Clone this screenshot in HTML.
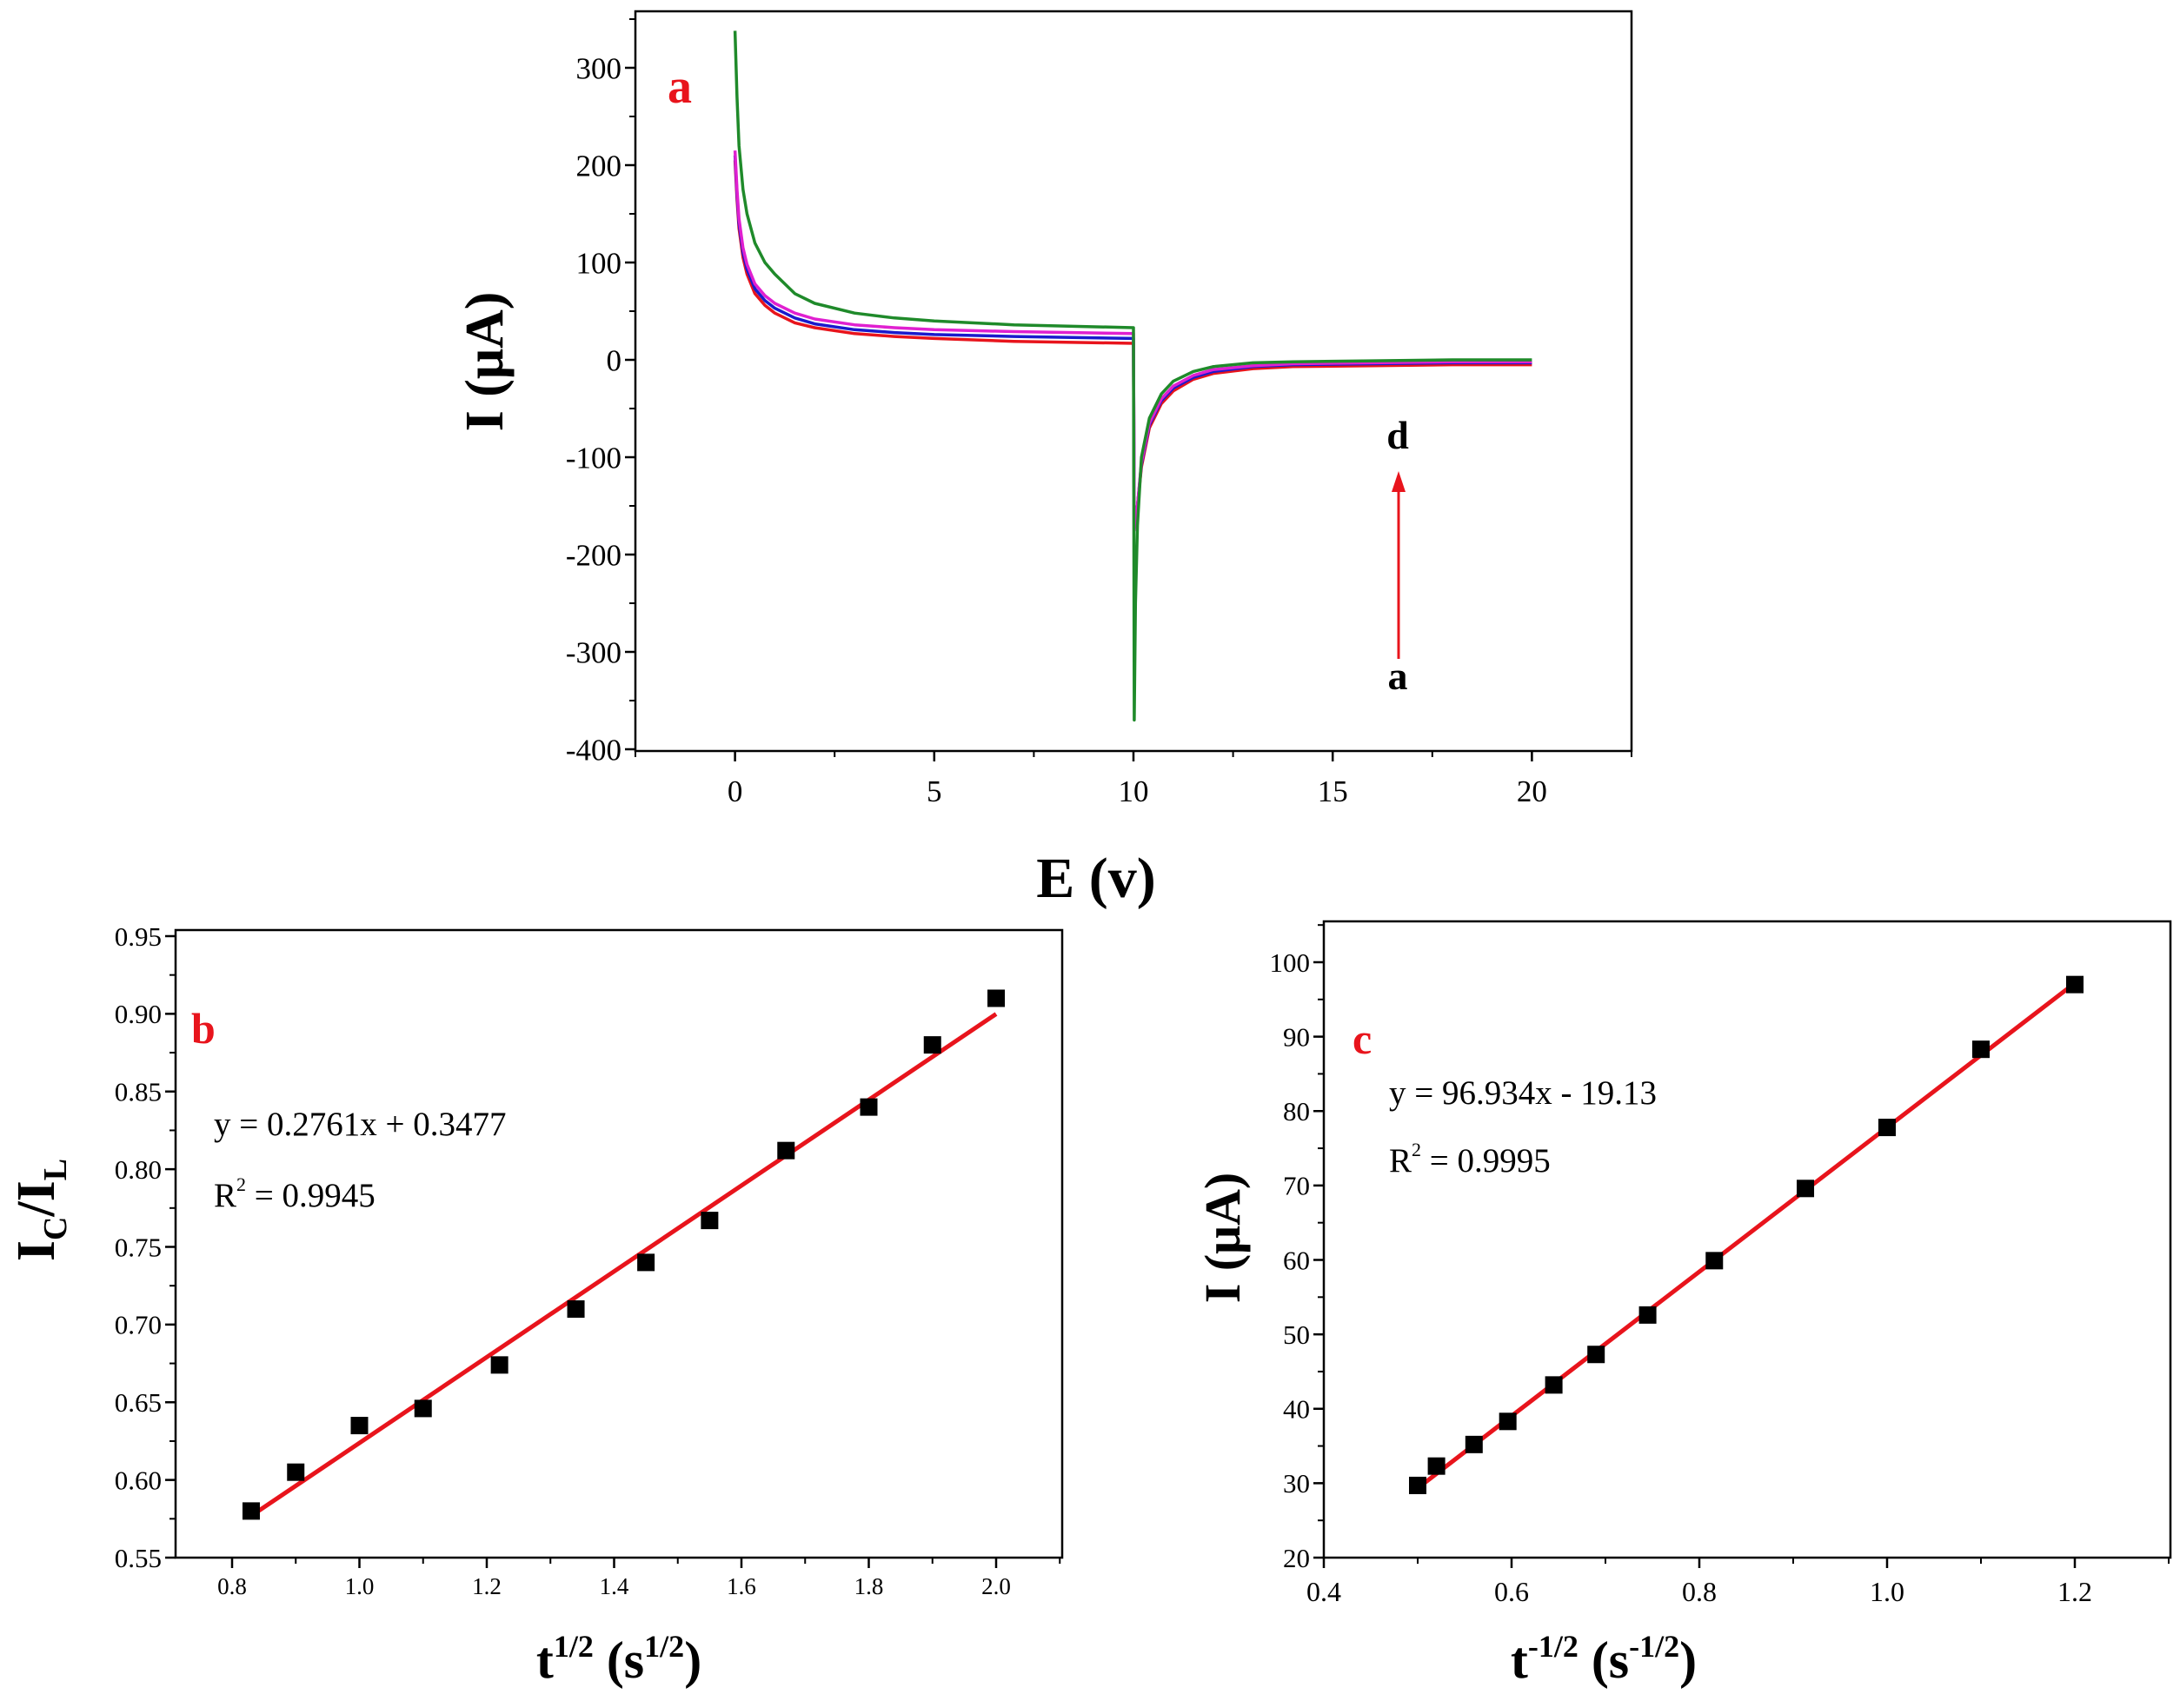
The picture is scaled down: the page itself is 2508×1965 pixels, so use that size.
<!DOCTYPE html>
<html><head><meta charset="utf-8">
<style>
html,body{margin:0;padding:0;background:#fff;}
svg{display:block;font-family:"Liberation Serif","DejaVu Serif",serif;}
</style></head>
<body>
<svg id="fig" width="2508" height="1965" viewBox="0 0 2508 1965"></svg>
<script>
// ---- Panel a data ----
const aTime1 = [0,0.05,0.1,0.2,0.3,0.5,0.75,1,1.5,2,3,4,5,7,10];
const aTime2 = [10.02,10.05,10.1,10.2,10.4,10.7,11,11.5,12,13,14,16,18,20];
const aRed1 = [205,165,135,105,88,68,56,48,38,33,27,24,22,19,17];
const aBlue1 = [210,170,140,110,93,73,61,53,43,37,31,28,26,24,22];
const aMag1 = [215,175,145,115,98,78,66,58,48,42,36,33,31,29,27];
const aGreen1 = [338,270,220,175,150,120,100,88,68,58,48,43,40,36,33];
const aRed2 = [-170,-165,-150,-110,-70,-45,-32,-20,-14,-9,-7,-6,-5,-5];
const aBlue2 = [-172,-165,-150,-107,-67,-42,-29,-18,-12,-7,-5,-4,-3,-3];
const aMag2 = [-175,-165,-150,-105,-65,-40,-27,-16,-10,-6,-4,-3,-2,-2];
const aGreen2 = [-370,-250,-170,-100,-60,-35,-22,-12,-7,-3,-2,-1,0,0];
const aXTicks = [0,5,10,15,20];
const aYTicks = [-400,-300,-200,-100,0,100,200,300];
// ---- Panel b data ----
const bX = [0.83,0.9,1.0,1.1,1.22,1.34,1.45,1.55,1.67,1.8,1.9,2.0];
const bY = [0.58,0.605,0.635,0.646,0.674,0.71,0.74,0.767,0.812,0.84,0.88,0.91];
const bSlope = 0.2761, bIntercept = 0.3477;
const bXTicks = ["0.8","1.0","1.2","1.4","1.6","1.8","2.0"];
const bYTicks = ["0.55","0.60","0.65","0.70","0.75","0.80","0.85","0.90","0.95"];
// ---- Panel c data ----
const cX = [0.5,0.52,0.56,0.596,0.645,0.69,0.745,0.816,0.913,1.0,1.1,1.2];
const cY = [29.7,32.3,35.2,38.3,43.2,47.3,52.6,59.9,69.6,77.8,88.3,97.0];
const cSlope = 96.934, cIntercept = -19.13;
const cXTicks = ["0.4","0.6","0.8","1.0","1.2"];
const cYTicks = ["20","30","40","50","60","70","80","90","100"];

const NS="http://www.w3.org/2000/svg";
const svg=document.getElementById('fig');
function el(tag,attrs,parent,text){const e=document.createElementNS(NS,tag);for(const k in attrs)e.setAttribute(k,attrs[k]);if(text!==undefined)e.textContent=text;(parent||svg).appendChild(e);return e;}
function lin(d0,d1,r0,r1){return v=>r0+(v-d0)*(r1-r0)/(d1-d0);}

function frame(g,L,T,R,B){
  const f=el('rect',{x:L,y:T,width:R-L,height:B-T,fill:'none',stroke:'#000','stroke-width':2.5},g);
  
  
}
function xAxis(g,sx,B,ticks,minorStep,d0,d1,fs,ly){
  ticks.forEach(t=>{const v=+t;const x=sx(v);
    const l=el('line',{x1:x,x2:x,y1:B,y2:B+12,stroke:'#000','stroke-width':2.5},g);
    
    const tx=el('text',{x:x,y:ly,'font-size':fs,'text-anchor':'middle'},g,t);
    
  });
  for(let v=Math.ceil(d0/minorStep)*minorStep;v<=d1+1e-9;v+=minorStep){const x=sx(v);
    const m=el('line',{x1:x,x2:x,y1:B,y2:B+7,stroke:'#000','stroke-width':2},g);
    }
}
function yAxis(g,sy,L,ticks,minorStep,d0,d1,fs){
  ticks.forEach(t=>{const v=+t;const y=sy(v);
    const l=el('line',{x1:L-12,x2:L,y1:y,y2:y,stroke:'#000','stroke-width':2.5},g);
    
    const tx=el('text',{x:L-16,y:y+fs*0.35,'font-size':fs,'text-anchor':'end'},g,t);
    
  });
  for(let v=Math.ceil(d0/minorStep-1e-9)*minorStep;v<=d1+1e-9;v+=minorStep){const y=sy(v);
    const m=el('line',{x1:L-7,x2:L,y1:y,y2:y,stroke:'#000','stroke-width':2},g);
    }
}

// ===== Panel a =====
(function(){
  const g=el('g',{});
  
  const L=731,R=1877,T=13,B=864;
  const sx=lin(-2.5,22.5,L,R), sy=lin(0,100,414,302);
  frame(g,L,T,R,B);
  xAxis(g,sx,B,aXTicks.map(String),2.5,-2.5,22.5,35,922);
  yAxis(g,sy,L,aYTicks.map(String),50,-400,350,35);
  const series=[['red-curve','#e8141c',aRed1,aRed2],['blue-curve','#1a1acc',aBlue1,aBlue2],['magenta-curve','#e020d0',aMag1,aMag2],['green-curve','#1f8a2a',aGreen1,aGreen2]];
  series.forEach(s=>{
    let d='';
    aTime1.forEach((t,i)=>{d+=(i?'L':'M')+sx(t).toFixed(1)+','+sy(s[2][i]).toFixed(1);});
    aTime2.forEach((t,i)=>{d+='L'+sx(t).toFixed(1)+','+sy(s[3][i]).toFixed(1);});
    const p=el('path',{d:d,fill:'none',stroke:s[1],'stroke-width':3.5,'stroke-linejoin':'round'},g);
    
  });
  const la=el('text',{x:768,y:118,'font-size':56,'font-weight':'bold',fill:'#e8141c'},g,'a');
  
  const ld=el('text',{x:1608,y:516,'font-size':46,'font-weight':'bold','text-anchor':'middle'},g,'d');
  
  const la2=el('text',{x:1608,y:793,'font-size':46,'font-weight':'bold','text-anchor':'middle'},g,'a');
  
  const ar=el('line',{x1:1609,x2:1609,y1:758,y2:560,stroke:'#e8141c','stroke-width':3},g);
  
  const ah=el('polygon',{points:'1609,542 1601,566 1617,566',fill:'#e8141c'},g);
  
  const xt=el('text',{x:1261,y:1032,'font-size':66,'font-weight':'bold','text-anchor':'middle'},g,'E (v)');
  
  const yt=el('text',{x:0,y:0,'font-size':62,'font-weight':'bold','text-anchor':'middle',transform:'translate(578,416) rotate(-90)'},g,'I (μA)');
  
})();

// ===== Panel b =====
(function(){
  const g=el('g',{});
  
  const L=202,R=1222,T=1070,B=1792;
  const sx=lin(0.8,2.0,267,1146), sy=lin(0.55,0.95,1792,1077);
  frame(g,L,T,R,B);
  xAxis(g,sx,B,bXTicks,0.1,0.72,2.1,27,1834);
  yAxis(g,sy,L,bYTicks,0.025,0.55,0.95,31);
  const x0=bX[0],x1=bX[bX.length-1];
  const fl=el('line',{x1:sx(x0),y1:sy(bSlope*x0+bIntercept),x2:sx(x1),y2:sy(bSlope*x1+bIntercept),stroke:'#e8141c','stroke-width':5},g);
  
  bX.forEach((x,i)=>{
    const r=el('rect',{x:sx(x)-10,y:sy(bY[i])-10,width:20,height:20,fill:'#000'},g);
    
  });
  const lb=el('text',{x:220,y:1200,'font-size':50,'font-weight':'bold',fill:'#e8141c'},g,'b');
  
  const eq=el('text',{x:246,y:1306,'font-size':39},g,'y = 0.2761x + 0.3477');
  
  const r2=el('text',{x:246,y:1388,'font-size':39},g);
  
  el('tspan',{},r2,'R');el('tspan',{dy:-18,'font-size':22},r2,'2');el('tspan',{dy:18},r2,' = 0.9945');
  const xt=el('text',{x:712,y:1930,'font-size':60,'font-weight':'bold','text-anchor':'middle'},g);
  
  el('tspan',{},xt,'t');el('tspan',{dy:-24,'font-size':36},xt,'1/2');el('tspan',{dy:24},xt,' (s');el('tspan',{dy:-24,'font-size':36},xt,'1/2');el('tspan',{dy:24},xt,')');
  const yt=el('text',{x:0,y:0,'font-size':62,'font-weight':'bold','text-anchor':'middle',transform:'translate(62,1392) rotate(-90)'},g);
  
  el('tspan',{},yt,'I');el('tspan',{dy:14,'font-size':38},yt,'C');el('tspan',{dy:-14},yt,'/I');el('tspan',{dy:14,'font-size':38},yt,'L');
})();

// ===== Panel c =====
(function(){
  const g=el('g',{});
  
  const L=1523,R=2497,T=1060,B=1792;
  const sx=lin(0.4,1.2,1523,2387), sy=lin(20,100,1792,1107);
  frame(g,L,T,R,B);
  xAxis(g,sx,B,cXTicks,0.1,0.4,1.3,32,1842);
  yAxis(g,sy,L,cYTicks,5,20,105,31);
  const x0=cX[0],x1=cX[cX.length-1];
  const fl=el('line',{x1:sx(x0),y1:sy(cSlope*x0+cIntercept),x2:sx(x1),y2:sy(cSlope*x1+cIntercept),stroke:'#e8141c','stroke-width':5},g);
  
  cX.forEach((x,i)=>{
    const r=el('rect',{x:sx(x)-10,y:sy(cY[i])-10,width:20,height:20,fill:'#000'},g);
    
  });
  const lc=el('text',{x:1556,y:1212,'font-size':50,'font-weight':'bold',fill:'#e8141c'},g,'c');
  
  const eq=el('text',{x:1598,y:1270,'font-size':39},g,'y = 96.934x - 19.13');
  
  const r2=el('text',{x:1598,y:1348,'font-size':39},g);
  
  el('tspan',{},r2,'R');el('tspan',{dy:-18,'font-size':22},r2,'2');el('tspan',{dy:18},r2,' = 0.9995');
  const xt=el('text',{x:1845,y:1930,'font-size':60,'font-weight':'bold','text-anchor':'middle'},g);
  
  el('tspan',{},xt,'t');el('tspan',{dy:-24,'font-size':36},xt,'-1/2');el('tspan',{dy:24},xt,' (s');el('tspan',{dy:-24,'font-size':36},xt,'-1/2');el('tspan',{dy:24},xt,')');
  const yt=el('text',{x:0,y:0,'font-size':58,'font-weight':'bold','text-anchor':'middle',transform:'translate(1426,1424) rotate(-90)'},g,'I (μA)');
  
})();
</script>
</body></html>
